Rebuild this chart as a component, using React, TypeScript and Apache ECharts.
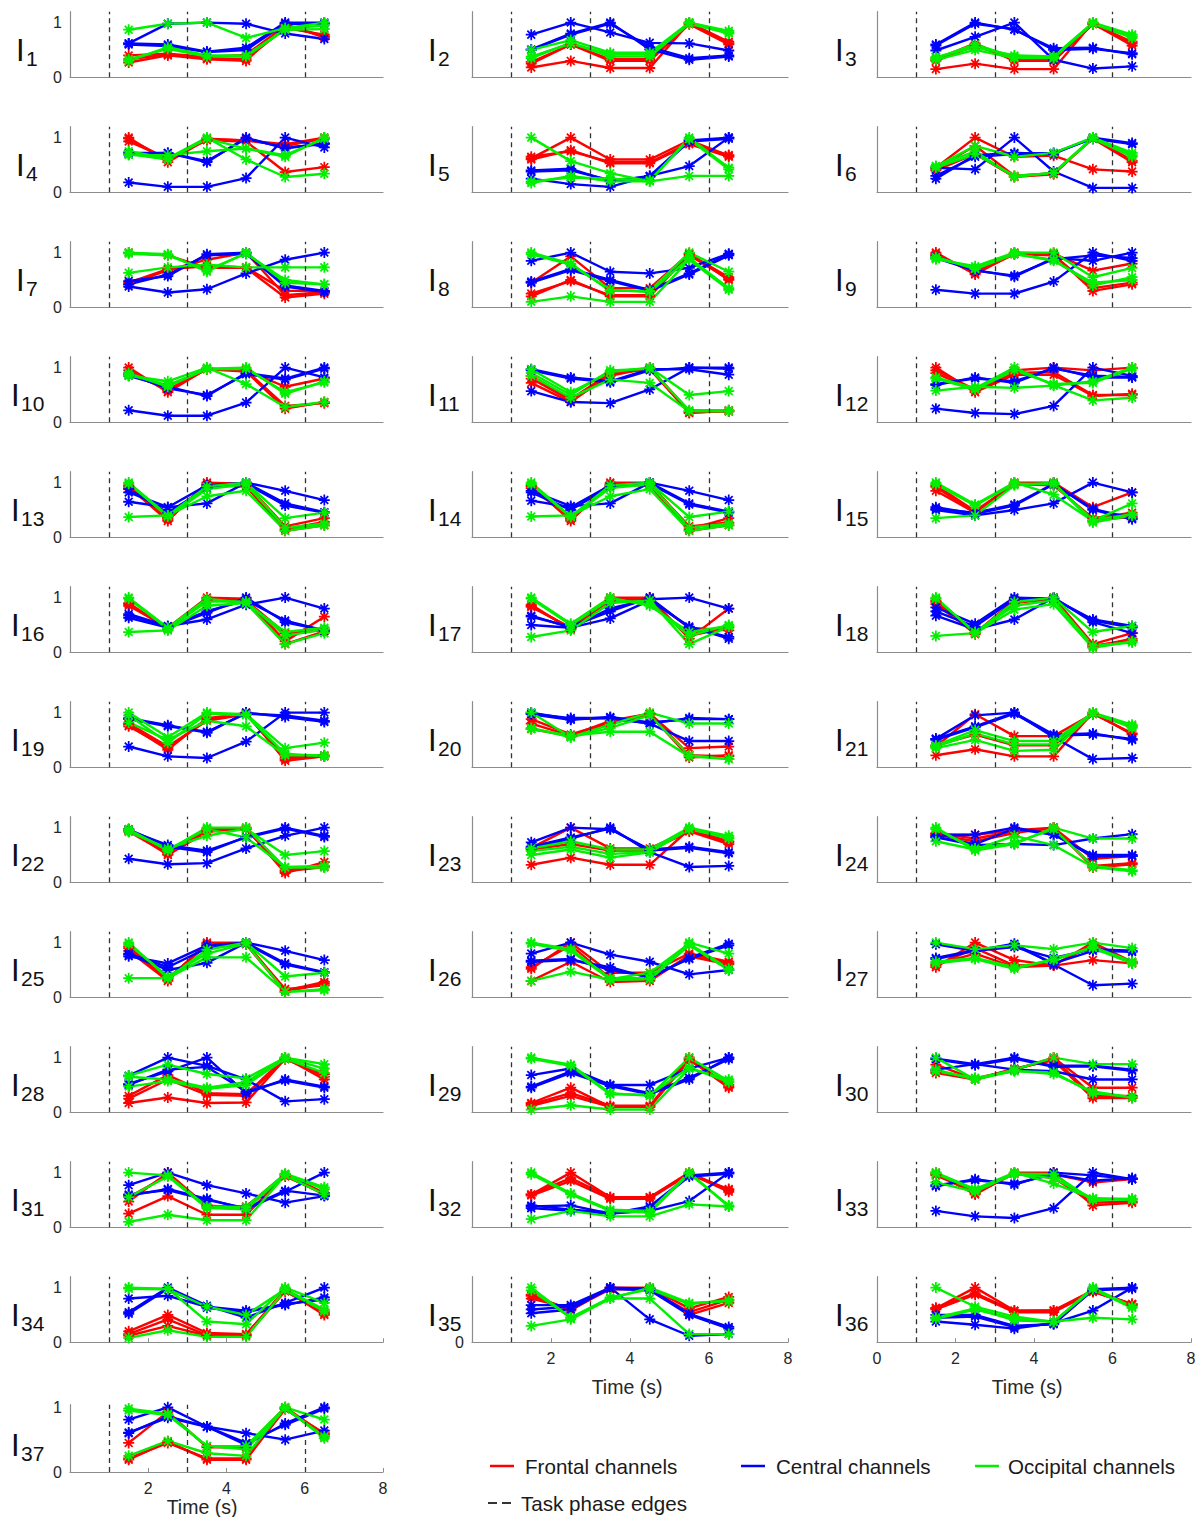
import { useEffect, useRef } from 'react';
import * as echarts from 'echarts';

// Time points (s) of each channel's values and the task phase edges
const TIMES = [1.5, 2.5, 3.5, 4.5, 5.5, 6.5];
const PHASE_EDGES = [1, 3, 6];

// Per participant: frontal, central and occipital channel curves
const I1 = { frontal: [[0.4,0.43,0.37,0.41,0.95,0.75],[0.27,0.4,0.33,0.3,0.97,0.73],[0.33,0.42,0.35,0.33,0.9,0.78]], central: [[0.62,0.98,1.0,0.98,0.8,0.7],[0.62,0.6,0.47,0.54,1.0,1.0],[0.6,0.57,0.46,0.5,0.98,0.98]], occipital: [[0.87,0.98,1.0,0.72,0.9,1.0],[0.3,0.55,0.4,0.4,0.88,0.95],[0.33,0.52,0.38,0.38,0.87,0.88]] };
const I2 = { frontal: [[0.18,0.3,0.17,0.17,1.0,0.65],[0.28,0.6,0.33,0.33,0.98,0.62],[0.25,0.6,0.3,0.3,0.97,0.6]], central: [[0.78,1.0,0.82,0.63,0.62,0.49],[0.51,0.8,1.0,0.51,0.32,0.38],[0.5,0.78,0.98,0.55,0.35,0.4]], occipital: [[0.5,0.68,0.45,0.45,1.0,0.85],[0.38,0.62,0.42,0.42,1.0,0.82],[0.35,0.63,0.38,0.38,0.98,0.8]] };
const I3 = { frontal: [[0.15,0.25,0.15,0.15,1.0,0.62],[0.33,0.62,0.3,0.3,0.98,0.58],[0.3,0.58,0.33,0.32,0.97,0.65]], central: [[0.6,1.0,0.87,0.53,0.54,0.42],[0.49,0.74,1.0,0.32,0.16,0.2],[0.58,0.98,0.88,0.5,0.52,0.44]], occipital: [[0.37,0.55,0.4,0.38,1.0,0.78],[0.32,0.5,0.35,0.35,1.0,0.75],[0.35,0.6,0.37,0.36,0.98,0.72]] };
const I4 = { frontal: [[1.0,0.55,0.97,0.95,0.88,1.0],[0.93,0.62,0.95,0.93,0.37,0.46],[0.98,0.6,0.98,0.95,0.85,0.98]], central: [[0.72,0.72,0.55,1.0,0.8,0.9],[0.18,0.1,0.1,0.26,1.0,0.82],[0.7,0.72,0.57,0.98,0.82,0.88]], occipital: [[0.75,0.62,1.0,0.6,0.28,0.34],[0.68,0.68,0.75,0.8,0.65,1.0],[0.7,0.6,0.98,0.8,0.68,0.98]] };
const I5 = { frontal: [[0.62,1.0,0.6,0.6,0.95,0.67],[0.6,0.77,0.53,0.53,0.88,0.65],[0.65,0.75,0.55,0.55,0.9,0.68]], central: [[0.4,0.43,0.2,0.3,0.95,1.0],[0.25,0.15,0.1,0.3,0.48,1.0],[0.38,0.4,0.22,0.28,0.93,0.98]], occipital: [[1.0,0.57,0.35,0.2,1.0,0.45],[0.17,0.3,0.2,0.2,0.3,0.3],[0.2,0.27,0.25,0.22,0.97,0.42]] };
const I6 = { frontal: [[0.45,1.0,0.65,0.67,0.42,0.38],[0.4,0.7,0.28,0.33,1.0,0.58],[0.43,0.85,0.3,0.35,0.98,0.55]], central: [[0.25,0.68,0.72,0.7,1.0,0.9],[0.45,0.42,1.0,0.38,0.08,0.08],[0.3,0.65,0.7,0.72,0.98,0.88]], occipital: [[0.47,0.85,0.65,0.72,1.0,0.72],[0.45,0.7,0.3,0.35,0.98,0.65],[0.48,0.75,0.28,0.36,1.0,0.68]] };
const I7 = { frontal: [[1.0,0.95,0.72,0.72,0.18,0.25],[0.42,0.68,0.87,1.0,0.22,0.28],[0.45,0.7,0.75,0.73,0.3,0.3]], central: [[0.48,0.57,0.97,1.0,0.4,0.3],[0.38,0.27,0.33,0.62,0.87,1.0],[0.42,0.6,0.95,0.98,0.38,0.28]], occipital: [[1.0,0.97,0.65,1.0,0.45,0.42],[0.63,0.73,0.78,0.73,0.73,0.73],[0.98,0.95,0.68,0.98,0.5,0.42]] };
const I8 = { frontal: [[0.45,0.93,0.35,0.35,0.98,0.5],[0.2,0.5,0.2,0.2,0.97,0.55],[0.25,0.48,0.22,0.22,0.95,0.52]], central: [[0.85,1.0,0.65,0.62,0.72,0.98],[0.45,0.68,0.48,0.3,0.6,0.95],[0.47,0.7,0.5,0.32,0.62,0.97]], occipital: [[1.0,0.8,0.3,0.3,1.0,0.65],[0.1,0.2,0.1,0.1,0.87,0.32],[0.97,0.78,0.32,0.28,0.9,0.35]] };
const I9 = { frontal: [[1.0,0.6,1.0,0.98,0.67,0.8],[0.95,0.65,0.98,0.97,0.3,0.42],[0.97,0.62,0.97,0.95,0.35,0.45]], central: [[0.93,0.68,0.56,0.9,0.85,1.0],[0.32,0.25,0.25,0.47,1.0,0.85],[0.9,0.67,0.58,0.88,0.95,0.9]], occipital: [[0.88,0.75,1.0,1.0,0.55,0.72],[0.9,0.72,0.98,0.85,0.45,0.5],[0.92,0.7,0.97,0.87,0.4,0.55]] };
const I10 = { frontal: [[1.0,0.55,0.98,0.95,0.65,0.8],[0.9,0.6,0.97,0.93,0.25,0.37],[0.95,0.58,0.98,0.95,0.3,0.35]], central: [[0.85,0.65,0.48,0.9,0.8,1.0],[0.22,0.12,0.12,0.36,1.0,0.82],[0.88,0.62,0.5,0.88,0.78,0.98]], occipital: [[0.85,0.75,1.0,0.7,0.28,0.37],[0.9,0.65,0.98,1.0,0.52,0.75],[0.87,0.68,0.97,0.98,0.55,0.73]] };
const I11 = { frontal: [[0.8,0.4,0.85,1.0,0.2,0.2],[0.72,0.37,0.88,0.98,0.17,0.22],[0.85,0.42,0.9,0.97,0.18,0.2]], central: [[0.97,0.82,0.75,0.97,0.97,0.87],[0.57,0.37,0.35,0.6,1.0,1.0],[0.95,0.8,0.73,0.95,1.0,0.98]], occipital: [[0.97,0.55,0.92,1.0,0.5,0.57],[0.85,0.45,0.78,0.72,0.2,0.2],[0.9,0.5,0.95,0.98,0.22,0.22]] };
const I12 = { frontal: [[1.0,0.55,0.87,0.87,0.48,0.52],[0.95,0.6,0.95,1.0,0.95,1.0],[0.9,0.58,0.9,0.92,0.5,0.5]], central: [[0.68,0.82,0.72,1.0,0.82,0.82],[0.25,0.17,0.15,0.3,1.0,0.85],[0.7,0.8,0.75,0.98,0.85,0.83]], occipital: [[0.82,0.62,1.0,0.68,0.4,0.45],[0.58,0.65,0.63,0.67,0.75,1.0],[0.8,0.6,0.95,0.7,0.72,0.98]] };
const I13 = { frontal: [[0.93,0.3,1.0,0.98,0.2,0.35],[0.9,0.35,0.97,0.95,0.15,0.28],[0.95,0.33,0.95,0.93,0.12,0.22]], central: [[0.82,0.55,0.95,1.0,0.85,0.68],[0.65,0.55,0.62,1.0,0.62,0.46],[0.88,0.45,0.9,0.98,0.58,0.45]], occipital: [[1.0,0.4,0.93,1.0,0.35,0.45],[0.37,0.4,0.75,0.85,0.12,0.22],[0.98,0.38,0.88,0.97,0.18,0.25]] };
const I14 = { frontal: [[0.95,0.3,1.0,1.0,0.15,0.35],[0.9,0.35,0.97,0.97,0.2,0.27],[0.93,0.33,0.95,0.95,0.12,0.22]], central: [[0.85,0.57,0.62,1.0,0.85,0.68],[0.67,0.55,0.95,1.0,0.62,0.47],[0.82,0.5,0.93,0.98,0.6,0.45]], occipital: [[1.0,0.38,0.95,1.0,0.37,0.47],[0.38,0.4,0.75,0.88,0.12,0.22],[0.97,0.37,0.9,0.97,0.18,0.25]] };
const I15 = { frontal: [[0.85,0.45,1.0,1.0,0.55,0.82],[0.95,0.48,0.98,0.98,0.3,0.38],[0.92,0.45,0.97,0.95,0.35,0.45]], central: [[0.52,0.45,0.6,0.98,0.5,0.33],[0.5,0.4,0.5,0.62,1.0,0.82],[0.55,0.43,0.58,0.97,0.52,0.35]], occipital: [[1.0,0.6,1.0,0.78,0.3,0.62],[0.35,0.4,0.95,1.0,0.27,0.4],[0.97,0.58,0.98,0.97,0.32,0.42]] };
const I16 = { frontal: [[0.85,0.45,1.0,0.98,0.2,0.65],[0.9,0.42,0.98,0.95,0.35,0.4],[0.88,0.45,0.95,0.93,0.15,0.38]], central: [[0.7,0.48,0.6,0.87,1.0,0.8],[0.63,0.45,0.72,1.0,0.55,0.4],[0.67,0.47,0.75,0.95,0.58,0.4]], occipital: [[1.0,0.45,0.98,0.9,0.37,0.45],[0.37,0.4,0.85,0.9,0.15,0.35],[0.98,0.43,0.93,0.93,0.3,0.42]] };
const I17 = { frontal: [[0.83,0.45,1.0,1.0,0.25,0.8],[0.87,0.42,0.98,0.98,0.45,0.4],[0.85,0.43,0.95,0.93,0.3,0.45]], central: [[0.67,0.45,0.8,0.97,1.0,0.8],[0.5,0.45,0.62,0.95,0.47,0.25],[0.65,0.47,0.75,1.0,0.45,0.28]], occipital: [[1.0,0.52,1.0,0.85,0.37,0.48],[0.28,0.4,0.9,0.95,0.15,0.47],[0.98,0.5,0.97,0.88,0.3,0.5]] };
const I18 = { frontal: [[0.88,0.35,0.95,1.0,0.15,0.35],[0.95,0.33,0.9,0.98,0.1,0.25],[0.92,0.35,0.92,0.97,0.12,0.22]], central: [[0.82,0.52,1.0,0.98,0.6,0.48],[0.67,0.42,0.6,1.0,0.55,0.35],[0.75,0.47,0.97,0.98,0.58,0.45]], occipital: [[1.0,0.35,0.92,1.0,0.37,0.48],[0.3,0.35,0.78,0.88,0.08,0.2],[0.98,0.37,0.85,0.95,0.12,0.18]] };
const I19 = { frontal: [[0.75,0.35,0.87,1.0,0.12,0.2],[0.78,0.32,0.9,0.98,0.15,0.2],[0.8,0.38,0.85,0.97,0.18,0.22]], central: [[0.9,0.77,0.63,1.0,0.92,0.83],[0.38,0.2,0.17,0.47,1.0,1.0],[0.88,0.75,0.65,0.98,0.95,0.85]], occipital: [[1.0,0.55,1.0,0.97,0.35,0.45],[0.82,0.5,0.85,0.75,0.22,0.22],[0.95,0.45,0.98,0.95,0.25,0.2]] };
const I20 = { frontal: [[0.88,0.6,0.82,0.98,0.35,0.38],[0.7,0.57,0.8,0.97,0.18,0.22],[0.8,0.58,0.85,0.98,0.22,0.2]], central: [[1.0,0.88,0.9,0.8,0.9,0.88],[0.98,0.9,0.9,0.8,0.48,0.48],[0.97,0.87,0.92,0.82,0.88,0.88]], occipital: [[1.0,0.55,0.78,1.0,0.8,0.8],[0.7,0.58,0.65,0.65,0.2,0.15],[0.72,0.55,0.72,0.95,0.22,0.15]] };
const I21 = { frontal: [[0.22,0.33,0.2,0.2,1.0,0.6],[0.38,0.97,0.57,0.57,0.98,0.62],[0.4,0.6,0.4,0.4,0.97,0.75]], central: [[0.52,0.95,1.0,0.6,0.62,0.5],[0.52,0.75,1.0,0.55,0.15,0.17],[0.5,0.73,0.98,0.58,0.6,0.52]], occipital: [[0.4,0.68,0.48,0.48,1.0,0.78],[0.35,0.5,0.3,0.32,1.0,0.72],[0.38,0.62,0.42,0.42,0.98,0.75]] };
const I22 = { frontal: [[0.97,0.5,0.92,1.0,0.17,0.37],[0.95,0.55,0.95,0.98,0.2,0.28],[0.93,0.52,0.97,0.97,0.22,0.3]], central: [[0.97,0.65,0.55,0.83,1.0,0.85],[0.43,0.33,0.35,0.62,0.85,1.0],[0.95,0.68,0.58,0.82,0.98,0.83]], occipital: [[0.92,0.62,0.85,0.98,0.5,0.57],[0.97,0.58,1.0,1.0,0.27,0.27],[0.95,0.6,0.97,0.82,0.28,0.3]] };
const I23 = { frontal: [[0.63,1.0,0.62,0.62,0.95,0.73],[0.32,0.45,0.32,0.32,0.97,0.75],[0.6,0.7,0.58,0.58,0.93,0.7]], central: [[0.73,1.0,0.97,0.6,0.65,0.55],[0.62,0.8,1.0,0.55,0.28,0.3],[0.65,0.82,0.98,0.58,0.63,0.53]], occipital: [[0.62,0.75,0.6,0.6,1.0,0.85],[0.5,0.6,0.45,0.55,0.98,0.8],[0.57,0.65,0.52,0.55,0.97,0.82]] };
const I24 = { frontal: [[0.88,0.87,0.95,1.0,0.43,0.48],[0.87,0.75,0.9,1.0,0.27,0.33],[0.9,0.8,0.93,0.98,0.3,0.35]], central: [[0.85,0.87,1.0,0.88,0.47,0.48],[0.82,0.68,0.7,0.68,0.8,0.88],[0.83,0.7,0.98,0.87,0.5,0.5]], occipital: [[1.0,0.58,0.7,1.0,0.8,0.8],[0.75,0.6,0.85,0.68,0.28,0.2],[0.97,0.62,0.72,0.97,0.3,0.22]] };
const I25 = { frontal: [[0.85,0.3,1.0,1.0,0.12,0.28],[0.9,0.33,0.98,0.98,0.15,0.22],[0.93,0.35,0.95,0.97,0.1,0.25]], central: [[0.75,0.62,0.95,1.0,0.85,0.68],[0.78,0.5,0.63,1.0,0.62,0.46],[0.8,0.55,0.9,0.98,0.6,0.45]], occipital: [[1.0,0.35,0.87,1.0,0.38,0.45],[0.35,0.35,0.73,0.73,0.1,0.13],[0.97,0.38,0.8,0.98,0.1,0.15]] };
const I26 = { frontal: [[0.52,1.0,0.45,0.45,0.8,0.65],[0.3,0.65,0.28,0.3,0.77,0.62],[0.55,0.95,0.35,0.33,0.75,0.6]], central: [[0.8,1.0,0.78,0.65,0.42,0.5],[0.65,0.68,0.55,0.35,0.72,0.98],[0.67,0.7,0.5,0.38,0.7,0.95]], occipital: [[1.0,0.88,0.35,0.35,1.0,0.8],[0.3,0.47,0.32,0.33,0.95,0.5],[0.98,0.85,0.33,0.45,0.98,0.52]] };
const I27 = { frontal: [[0.55,1.0,0.68,0.58,0.68,0.62],[0.6,0.8,0.55,0.58,1.0,0.65],[0.58,0.9,0.58,0.6,0.95,0.63]], central: [[0.7,0.85,0.98,0.6,0.22,0.25],[0.97,0.85,0.92,0.72,0.88,0.85],[0.72,0.86,0.95,0.62,0.85,0.83]], occipital: [[1.0,0.88,0.95,0.88,1.0,0.9],[0.62,0.7,0.52,0.7,0.9,0.62],[0.65,0.72,0.55,0.68,0.92,0.65]] };
const I28 = { frontal: [[0.3,0.68,0.35,0.33,1.0,0.6],[0.17,0.27,0.17,0.18,0.98,0.65],[0.25,0.6,0.32,0.3,0.97,0.7]], central: [[0.52,0.75,1.0,0.35,0.6,0.47],[0.67,1.0,0.85,0.6,0.2,0.24],[0.5,0.78,0.83,0.38,0.58,0.45]], occipital: [[0.67,0.87,0.7,0.62,1.0,0.88],[0.47,0.57,0.43,0.5,0.98,0.72],[0.65,0.6,0.45,0.55,1.0,0.8]] };
const I29 = { frontal: [[0.17,0.45,0.1,0.1,0.97,0.45],[0.12,0.3,0.1,0.1,0.95,0.5],[0.15,0.35,0.12,0.12,1.0,0.47]], central: [[0.68,0.8,0.5,0.5,0.8,1.0],[0.45,0.72,0.48,0.33,0.6,1.0],[0.47,0.75,0.5,0.35,0.63,0.97]], occipital: [[1.0,0.87,0.35,0.3,1.0,0.57],[0.05,0.13,0.05,0.05,0.8,0.6],[0.98,0.85,0.33,0.32,0.82,0.55]] };
const I30 = { frontal: [[0.87,0.6,0.78,1.0,0.45,0.45],[0.72,0.6,0.8,0.95,0.26,0.26],[0.75,0.62,0.78,0.98,0.3,0.3]], central: [[0.98,0.88,1.0,0.85,0.85,0.78],[0.78,0.88,0.78,0.75,0.6,0.6],[0.97,0.86,0.98,0.83,0.84,0.76]], occipital: [[1.0,0.6,0.78,1.0,0.88,0.88],[0.75,0.63,0.75,0.73,0.35,0.28],[0.78,0.6,0.76,0.7,0.38,0.27]] };
const I31 = { frontal: [[0.47,1.0,0.38,0.38,0.97,0.63],[0.25,0.57,0.23,0.23,0.95,0.6],[0.55,0.95,0.4,0.35,0.93,0.62]], central: [[0.77,1.0,0.77,0.62,0.45,0.57],[0.58,0.7,0.52,0.33,0.65,1.0],[0.6,0.68,0.5,0.35,0.67,0.58]], occipital: [[1.0,0.95,0.38,0.37,0.98,0.73],[0.1,0.23,0.13,0.13,0.95,0.6],[0.55,0.93,0.35,0.33,0.97,0.7]] };
const I32 = { frontal: [[0.6,1.0,0.55,0.55,1.0,0.68],[0.58,0.85,0.52,0.52,0.98,0.65],[0.6,0.9,0.55,0.55,0.97,0.7]], central: [[0.38,0.4,0.25,0.38,0.95,1.0],[0.35,0.3,0.25,0.3,0.48,1.0],[0.4,0.32,0.27,0.35,0.93,0.98]], occipital: [[1.0,0.62,0.32,0.3,1.0,0.38],[0.15,0.3,0.2,0.2,0.42,0.38],[0.97,0.6,0.3,0.27,0.98,0.4]] };
const I33 = { frontal: [[1.0,0.6,1.0,1.0,0.4,0.45],[0.95,0.65,0.98,0.97,0.82,0.88],[0.97,0.62,0.98,0.9,0.45,0.47]], central: [[0.75,0.88,0.78,1.0,0.95,0.88],[0.3,0.2,0.17,0.35,1.0,0.88],[0.77,0.86,0.8,0.97,0.85,0.9]], occipital: [[1.0,0.7,1.0,0.8,0.53,0.52],[0.82,0.65,0.98,0.97,0.5,0.52],[0.98,0.68,0.97,0.9,0.52,0.5]] };
const I34 = { frontal: [[0.2,0.5,0.17,0.15,0.95,0.5],[0.15,0.42,0.13,0.13,0.97,0.52],[0.12,0.3,0.12,0.12,0.93,0.55]], central: [[0.8,0.85,0.65,0.58,0.68,0.82],[0.55,1.0,0.67,0.45,0.72,1.0],[0.52,0.98,0.63,0.55,0.7,0.78]], occipital: [[1.0,0.98,0.38,0.33,1.0,0.72],[0.08,0.22,0.1,0.1,0.95,0.57],[0.98,0.97,0.65,0.5,0.97,0.6]] };
const I35 = { frontal: [[0.87,0.58,1.0,1.0,0.62,0.83],[0.8,0.62,0.98,0.98,0.5,0.72],[0.85,0.6,0.97,0.97,0.55,0.78]], central: [[0.68,0.68,1.0,0.98,0.52,0.28],[0.53,0.6,1.0,0.42,0.12,0.15],[0.6,0.65,0.98,0.95,0.5,0.25]], occipital: [[1.0,0.45,0.8,1.0,0.72,0.75],[0.3,0.42,0.8,0.8,0.15,0.15],[0.95,0.45,0.82,0.97,0.7,0.77]] };
const I36 = { frontal: [[0.62,1.0,0.58,0.58,0.95,0.7],[0.6,0.87,0.55,0.55,0.92,0.7],[0.63,0.9,0.57,0.58,0.93,0.68]], central: [[0.5,0.5,0.3,0.33,0.97,1.0],[0.38,0.32,0.25,0.35,0.58,1.0],[0.45,0.47,0.28,0.34,0.95,0.98]], occipital: [[1.0,0.65,0.47,0.37,1.0,0.65],[0.43,0.6,0.43,0.38,0.45,0.42],[0.45,0.62,0.4,0.38,0.97,0.63]] };
const I37 = { frontal: [[0.45,0.93,0.38,0.38,1.0,0.58],[0.19,0.47,0.19,0.19,0.98,0.55],[0.21,0.45,0.21,0.21,0.97,0.6]], central: [[0.81,1.0,0.7,0.6,0.5,0.64],[0.61,0.84,0.7,0.42,0.75,1.0],[0.6,0.86,0.7,0.45,0.73,0.98]], occipital: [[0.98,0.9,0.4,0.4,1.0,0.81],[0.25,0.48,0.29,0.25,1.0,0.52],[0.95,0.88,0.4,0.35,0.98,0.55]] };

const PANELS = [I1, I2, I3, I4, I5, I6, I7, I8, I9, I10, I11, I12, I13, I14, I15, I16, I17, I18, I19, I20, I21, I22, I23, I24, I25, I26, I27, I28, I29, I30, I31, I32, I33, I34, I35, I36, I37];

const GROUPS = [
  { key: 'frontal', name: 'Frontal channels', color: '#ff0000' },
  { key: 'central', name: 'Central channels', color: '#0000ff' },
  { key: 'occipital', name: 'Occipital channels', color: '#00f000' },
];

const FONT = '"Liberation Sans", Arial, Helvetica, sans-serif';
const AXIS_GRAY = '#8c8c8c';
const TEXT = '#262626';

const ASTERISK =
  'path://M-1,-0.16L1,-0.16L1,0.16L-1,0.16Z M-0.16,-1L0.16,-1L0.16,1L-0.16,1Z ' +
  'M-0.594,-0.820L0.820,0.594L0.594,0.820L-0.820,-0.594Z M-0.820,0.594L0.594,-0.820L0.820,-0.594L-0.594,0.820Z';

const COL_LEFT = [70, 472, 877];
const COL_WIDTH = [313, 316, 314];
const LABEL_X = [16, 428, 835];

function panelBox(n: number) {
  if (n === 37) return { col: 0, bottom: 1472, unit: 64.7, ymax: 1.04 };
  const r = Math.floor((n - 1) / 3);
  const c = (n - 1) % 3;
  return { col: c, bottom: 77.3 + 115 * r, unit: 54.7, ymax: 1.2 };
}

function buildOption() {
  const grids: any[] = [];
  const xAxes: any[] = [];
  const yAxes: any[] = [];
  const series: any[] = [];
  const graphics: any[] = [];

  PANELS.forEach((panel: any, p) => {
    const n = p + 1;
    const { col, bottom, unit, ymax } = panelBox(n);
    const h = ymax * unit;
    grids.push({ left: COL_LEFT[col], width: COL_WIDTH[col], top: bottom - h, height: h });

    const showX = n === 35 || n === 36 || n === 37;
    const showTicks = n >= 34;
    xAxes.push({
      gridIndex: p, type: 'value', min: 0, max: 8, interval: 2,
      axisLine: { show: true, onZero: false, lineStyle: { color: AXIS_GRAY, width: 1.2 } },
      axisTick: { show: showTicks, inside: true, length: 4, lineStyle: { color: AXIS_GRAY } },
      axisLabel: {
        show: showX, margin: 8, fontSize: 16, fontFamily: FONT, color: TEXT,
        formatter: (v: number) => (n === 36 || v !== 0 ? String(v) : ''),
      },
      splitLine: { show: false },
    });
    const showY = col === 0 || n === 35;
    yAxes.push({
      gridIndex: p, type: 'value', min: 0, max: ymax, interval: 1,
      axisLine: { show: true, lineStyle: { color: AXIS_GRAY, width: 1.2 } },
      axisTick: { show: false },
      axisLabel: {
        show: showY, margin: 8, fontSize: 16, fontFamily: FONT, color: TEXT,
        formatter: (v: number) => (v === 0 ? '0' : v === 1 && n !== 35 ? '1' : ''),
      },
      splitLine: { show: false },
    });

    let first = true;
    GROUPS.forEach((g) => {
      (panel[g.key] as number[][]).forEach((vals) => {
        const s: any = {
          type: 'line', xAxisIndex: p, yAxisIndex: p,
          data: TIMES.map((t, i) => [t, vals[i]]),
          color: g.color,
          lineStyle: { color: g.color, width: 2.4 },
          itemStyle: { color: g.color, borderWidth: 0 },
          symbol: ASTERISK, symbolSize: 11, showSymbol: true,
          emphasis: { disabled: true }, silent: true,
        };
        if (first) {
          s.markLine = {
            silent: true, symbol: ['none', 'none'], label: { show: false },
            lineStyle: { color: '#333333', type: [5, 4], width: 1.3 },
            data: PHASE_EDGES.map((x) => ({ xAxis: x })),
          };
          first = false;
        }
        series.push(s);
      });
    });

    const lx = LABEL_X[col] - (col === 0 && n >= 10 ? 5 : 0);
    graphics.push({
      type: 'text', x: lx, y: bottom - 27, silent: true,
      style: { text: 'I', fontSize: 31, fontFamily: FONT, fill: '#111', align: 'left', verticalAlign: 'middle' },
    });
    graphics.push({
      type: 'text', x: lx + 10, y: bottom - 19, silent: true,
      style: { text: String(n), fontSize: 21, fontFamily: FONT, fill: '#111', align: 'left', verticalAlign: 'middle' },
    });
  });

  const timeLabels = [
    { x: 202, y: 1507 },
    { x: 627, y: 1387 },
    { x: 1027, y: 1387 },
  ];
  timeLabels.forEach((t) => {
    graphics.push({
      type: 'text', x: t.x, y: t.y, silent: true,
      style: { text: 'Time (s)', fontSize: 19.5, fontFamily: FONT, fill: TEXT, align: 'center', verticalAlign: 'middle' },
    });
  });

  const legendPos = [
    { lx: 490, tx: 525 },
    { lx: 741, tx: 776 },
    { lx: 975, tx: 1008 },
  ];
  GROUPS.forEach((g, i) => {
    const lp = legendPos[i];
    graphics.push({
      type: 'line', silent: true,
      shape: { x1: lp.lx, y1: 1466, x2: lp.lx + 24, y2: 1466 },
      style: { stroke: g.color, lineWidth: 2.5 },
    });
    graphics.push({
      type: 'text', x: lp.tx, y: 1466, silent: true,
      style: { text: g.name, fontSize: 20.6, fontFamily: FONT, fill: '#1a1a1a', align: 'left', verticalAlign: 'middle' },
    });
  });
  graphics.push({
    type: 'line', silent: true,
    shape: { x1: 488, y1: 1503, x2: 513, y2: 1503 },
    style: { stroke: '#333333', lineWidth: 2, lineDash: [9, 5] },
  });
  graphics.push({
    type: 'text', x: 521, y: 1503, silent: true,
    style: { text: 'Task phase edges', fontSize: 20.6, fontFamily: FONT, fill: '#1a1a1a', align: 'left', verticalAlign: 'middle' },
  });

  return {
    animation: false,
    backgroundColor: '#ffffff',
    grid: grids,
    xAxis: xAxes,
    yAxis: yAxes,
    series,
    graphic: graphics,
  };
}

export default function App() {
  const ref = useRef<HTMLDivElement>(null);
  useEffect(() => {
    if (!ref.current) return;
    const chart = echarts.init(ref.current, undefined, { renderer: 'svg' });
    chart.setOption(buildOption() as any);
    return () => chart.dispose();
  }, []);
  return (
    <div
      ref={ref}
      style={{ position: 'absolute', left: 0, top: 0, width: 1201, height: 1517, background: '#fff' }}
    />
  );
}
